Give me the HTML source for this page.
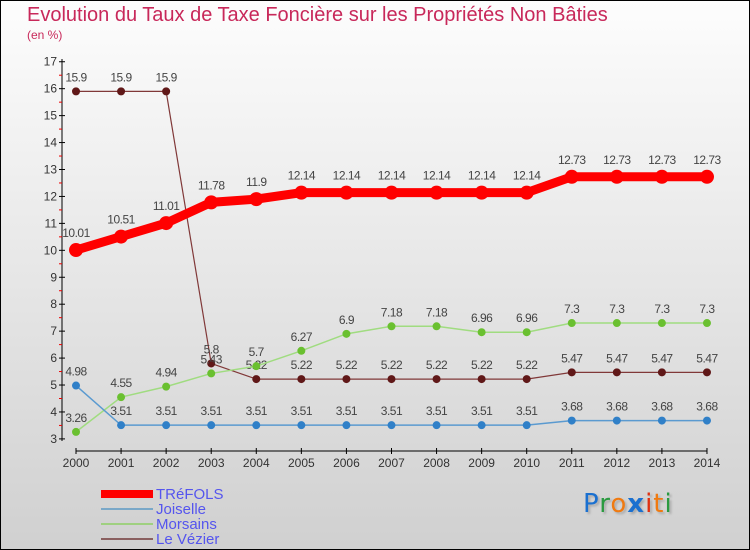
<!DOCTYPE html>
<html><head><meta charset="utf-8"><style>
body{margin:0;}
#c{position:relative;width:748px;height:548px;border:1px solid #000;background:linear-gradient(#fdfdfd,#d0d0d0);overflow:hidden;font-family:"Liberation Sans",sans-serif;}
.t{position:absolute;left:26px;top:3px;font-size:20px;color:#c8285a;}
.s{position:absolute;left:26px;top:27px;font-size:12px;color:#c8285a;}
.lg{position:absolute;left:155px;font-size:15px;color:#5555ee;line-height:15px;}
.sw{position:absolute;left:100px;}
</style></head><body>
<div id="c">
<div class="t">Evolution du Taux de Taxe Foncière sur les Propriétés Non Bâties</div>
<div class="s">(en %)</div>
<svg id="svg" width="748" height="548" style="position:absolute;left:0;top:0"></svg>
<div class="sw" style="top:489px;width:52px;height:8px;background:#f00"></div>
<div class="lg" style="top:486px">TRéFOLS</div>
<div class="sw" style="top:507px;width:52px;height:2px;background:#7aa8c8"></div>
<div class="lg" style="top:501px">Joiselle</div>
<div class="sw" style="top:522px;width:52px;height:2px;background:#9fd080"></div>
<div class="lg" style="top:516px">Morsains</div>
<div class="sw" style="top:537px;width:52px;height:2px;background:#8a6060"></div>
<div class="lg" style="top:531px">Le Vézier</div>
<div style="position:absolute;left:582px;top:488px;font-size:26px;font-family:'DejaVu Sans',sans-serif;letter-spacing:1px;text-shadow:2px 2px 2px #aaa"><span style="color:#1a70d0">P</span><span style="color:#2a9a40">r</span><span style="color:#f07a10">o</span><span style="color:#1a70d0;font-weight:bold">x</span><span style="color:#e03010">i</span><span style="color:#f07a10">t</span><span style="color:#2a9a40">i</span></div>
</div>
<script>
const years=[2000,2001,2002,2003,2004,2005,2006,2007,2008,2009,2010,2011,2012,2013,2014];
const trefols=[10.01,10.51,11.01,11.78,11.9,12.14,12.14,12.14,12.14,12.14,12.14,12.73,12.73,12.73,12.73];
const joiselle=[4.98,3.51,3.51,3.51,3.51,3.51,3.51,3.51,3.51,3.51,3.51,3.68,3.68,3.68,3.68];
const morsains=[3.26,4.55,4.94,5.43,5.7,6.27,6.9,7.18,7.18,6.96,6.96,7.3,7.3,7.3,7.3];
const vezier=[15.9,15.9,15.9,5.8,5.22,5.22,5.22,5.22,5.22,5.22,5.22,5.47,5.47,5.47,5.47];
const yTicks=[3,4,5,6,7,8,9,10,11,12,13,14,15,16,17];
const svg=document.getElementById('svg');const NS='http://www.w3.org/2000/svg';
function X(i){return 75+i*45.07;}
function Y(v){return 437.9-(v-3)*26.94;}
function mk(t,a,p){const e=document.createElementNS(NS,t);for(const k in a)e.setAttribute(k,a[k]);(p||svg).appendChild(e);return e;}
let ax=mk('line',{x1:61,y1:58,x2:61,y2:440,stroke:'#000'});


let xa=mk('line',{x1:75,y1:450,x2:706,y2:450,stroke:'#000'});


yTicks.forEach(v=>{mk('line',{x1:58,y1:Y(v),x2:64,y2:Y(v),stroke:'#000'});
 if(v<17)mk('line',{x1:58,y1:Y(v+0.5),x2:61,y2:Y(v+0.5),stroke:'#e00'});
 const t=mk('text',{x:56,y:Y(v)+4,'text-anchor':'end','font-size':12,fill:'#333','font-family':'Liberation Sans'});t.textContent=v;
 
 });
years.forEach((yr,i)=>{mk('line',{x1:X(i),y1:447,x2:X(i),y2:453,stroke:'#000'});
 const t=mk('text',{x:X(i),y:466,'text-anchor':'middle','font-size':12,fill:'#333','font-family':'Liberation Sans'});t.textContent=yr;
 
 });
function series(vals,name,col,dot,w,r){
 const g=mk('g',{});
 
 
 mk('polyline',{points:vals.map((v,i)=>X(i)+','+Y(v)).join(' '),fill:'none',stroke:col,'stroke-width':w},g);
 vals.forEach((v,i)=>{const c=mk('circle',{cx:X(i),cy:Y(v),r:r,fill:dot},g);
  
  
  const t=mk('text',{x:X(i),y:Y(v)-(r+6),'text-anchor':'middle','font-size':12,fill:'#444','font-family':'Liberation Sans','letter-spacing':'-0.5'},g);t.textContent=v;
  
  });
}
series(vezier,'le-vezier','#803838','#601818',1.2,4);
series(morsains,'morsains','#a0dc80','#6ac030',1.5,4);
series(joiselle,'joiselle','#5a9ad0','#3080c8',1.5,4);
series(trefols,'trefols','#f00','#f00',9,7);
</script>
</body></html>
